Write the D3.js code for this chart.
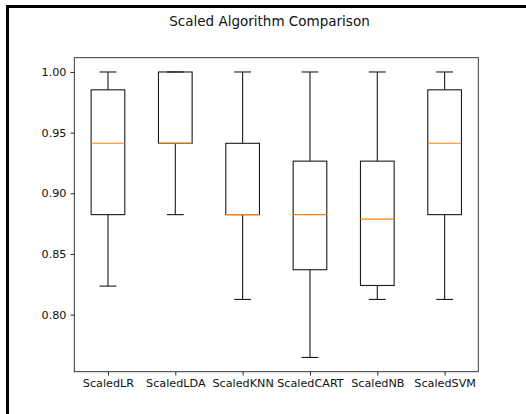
<!DOCTYPE html>
<html>
<head>
<meta charset="utf-8">
<script src="https://cdn.jsdelivr.net/npm/d3@7"></script>
<style>
  html, body { margin: 0; padding: 0; background: #fff; }
  svg { display: block; }
  text { font-family: "DejaVu Sans", sans-serif; fill: #111; }
</style>
</head>
<body>
<script>
const categories = ["ScaledLR", "ScaledLDA", "ScaledKNN", "ScaledCART", "ScaledNB", "ScaledSVM"];
const whiskerLow  = [0.8235, 0.8824, 0.8125, 0.7647, 0.8125, 0.8125];
const q1          = [0.8824, 0.9412, 0.8824, 0.8370, 0.8240, 0.8824];
const median      = [0.9412, 0.9412, 0.8824, 0.8824, 0.8787, 0.9412];
const q3          = [0.9853, 1.0000, 0.9412, 0.9265, 0.9265, 0.9853];
const whiskerHigh = [1.0, 1.0, 1.0, 1.0, 1.0, 1.0];
const yTicks = [0.80, 0.85, 0.90, 0.95, 1.00];
const title = "Scaled Algorithm Comparison";

const W = 526, H = 414;
const m = { left: 74.3, right: 478.3, top: 57.7, bottom: 371.7 };

const svg = d3.select("body").append("svg").attr("width", W).attr("height", H);

// screenshot frame (thick black L border)
svg.append("rect").attr("x", 6).attr("y", 5).attr("width", W - 6).attr("height", 3).attr("fill", "#000");
svg.append("rect").attr("x", 6).attr("y", 5).attr("width", 3).attr("height", H - 5).attr("fill", "#000");

const dataMin = d3.min(whiskerLow), dataMax = d3.max(whiskerHigh);
const pad = (dataMax - dataMin) * 0.05;
const y = d3.scaleLinear().domain([dataMin - pad, dataMax + pad]).range([m.bottom, m.top]);
const x = d3.scaleLinear().domain([0.5, categories.length + 0.5]).range([m.left, m.right]);

// title
svg.append("text").attr("x", 269.5).attr("y", 26).attr("text-anchor", "middle")
  .attr("font-size", 13.5).text(title);

// axes
const yAxis = d3.axisLeft(y).tickValues(yTicks).tickFormat(d3.format(".2f")).tickSize(3.8).tickPadding(4);
const gy = svg.append("g").attr("transform", `translate(${m.left},0)`).call(yAxis);
gy.select(".domain").remove();
gy.selectAll("text").attr("font-size", 11.2).attr("font-family", "DejaVu Sans").attr("fill", "#111");
gy.selectAll("line").attr("stroke", "#111").attr("stroke-width", 0.9);

const xAxis = d3.axisBottom(x).tickValues(categories.map((c, i) => i + 1))
  .tickFormat((d, i) => categories[i]).tickSize(3.8).tickPadding(4);
const gx = svg.append("g").attr("transform", `translate(0,${m.bottom})`).call(xAxis);
gx.select(".domain").remove();
gx.selectAll("text").attr("font-size", 11.2).attr("font-family", "DejaVu Sans").attr("fill", "#111");
gx.selectAll("line").attr("stroke", "#111").attr("stroke-width", 0.9);

// frame of axes
svg.append("rect").attr("x", m.left).attr("y", m.top)
  .attr("width", m.right - m.left).attr("height", m.bottom - m.top)
  .attr("fill", "none").attr("stroke", "#222").attr("stroke-width", 0.9);

// boxes
const boxW = x(1.25) - x(1);   // half-width of box (0.25 units)
const capW = x(1.125) - x(1);  // half-width of cap
const g = svg.append("g");
const sw = 1.1;
categories.forEach((c, i) => {
  const cx = x(i + 1);
  const stroke = "#1a1a1a";
  g.append("line").attr("x1", cx).attr("x2", cx).attr("y1", y(whiskerLow[i])).attr("y2", y(q1[i]))
    .attr("stroke", stroke).attr("stroke-width", sw);
  g.append("line").attr("x1", cx).attr("x2", cx).attr("y1", y(q3[i])).attr("y2", y(whiskerHigh[i]))
    .attr("stroke", stroke).attr("stroke-width", sw);
  [whiskerLow[i], whiskerHigh[i]].forEach(v => {
    g.append("line").attr("x1", cx - capW).attr("x2", cx + capW).attr("y1", y(v)).attr("y2", y(v))
      .attr("stroke", stroke).attr("stroke-width", sw);
  });
  g.append("rect").attr("x", cx - boxW).attr("y", y(q3[i]))
    .attr("width", 2 * boxW).attr("height", y(q1[i]) - y(q3[i]))
    .attr("fill", "none").attr("stroke", stroke).attr("stroke-width", sw);
  g.append("line").attr("x1", cx - boxW).attr("x2", cx + boxW).attr("y1", y(median[i])).attr("y2", y(median[i]))
    .attr("stroke", "#ff7f0e").attr("stroke-width", sw);
});
</script>
</body>
</html>
